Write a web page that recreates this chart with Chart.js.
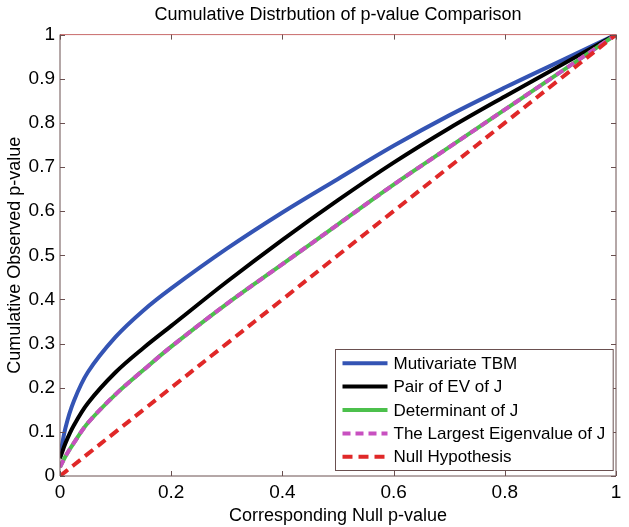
<!DOCTYPE html>
<html lang="en">
<head>
  <meta charset="UTF-8">
  <title>Cumulative Distrbution of p-value Comparison</title>
  <script src="https://cdn.jsdelivr.net/npm/chart.js"></script>
  <style>
    html, body { margin: 0; padding: 0; background: #fff; }
    #wrap { width: 629px; height: 527px; }
  </style>
</head>
<body>
  <div id="wrap"><canvas id="cdf" width="629" height="527"></canvas></div>

  <script>
    // values
    const nullP = [0, 0.01, 0.025, 0.05, 0.1, 0.15, 0.2, 0.3, 0.4, 0.5, 0.6, 0.7, 0.8, 0.9, 1];
    const tbm = [0.045, 0.11, 0.17, 0.235, 0.315, 0.375, 0.425, 0.515, 0.597, 0.673, 0.748, 0.817, 0.88, 0.94, 1];
    const pairEV = [0.04, 0.075, 0.115, 0.165, 0.235, 0.29, 0.34, 0.44, 0.535, 0.625, 0.71, 0.788, 0.86, 0.93, 1];
    const determinant = [0.02, 0.045, 0.075, 0.12, 0.185, 0.24, 0.293, 0.39, 0.48, 0.57, 0.66, 0.745, 0.83, 0.915, 1];
    const largestEig = [0.02, 0.045, 0.075, 0.12, 0.185, 0.24, 0.293, 0.39, 0.48, 0.57, 0.66, 0.745, 0.83, 0.915, 1];
    const nullHyp = [0, 0.01, 0.025, 0.05, 0.1, 0.15, 0.2, 0.3, 0.4, 0.5, 0.6, 0.7, 0.8, 0.9, 1];
    const seriesNames = ['Mutivariate TBM', 'Pair of EV of J', 'Determinant of J', 'The Largest Eigenvalue of J', 'Null Hypothesis'];
    const xTicks = [0, 0.2, 0.4, 0.6, 0.8, 1];
    const yTicks = [0, 0.1, 0.2, 0.3, 0.4, 0.5, 0.6, 0.7, 0.8, 0.9, 1];

    const toPoints = ys => nullP.map((x, i) => ({ x, y: ys[i] }));

    const axisColor = '#6a5050';
    const font = 'Liberation Sans, Arial, sans-serif';

    // MATLAB-like box with inward ticks plus an in-plot legend
    const matlabBox = {
      id: 'matlabBox',
      afterDatasetsDraw(chart) {
        const { ctx, chartArea: a, scales } = chart;
        ctx.save();
        ctx.lineWidth = 1;
        ctx.strokeStyle = axisColor;
        ctx.beginPath();
        ctx.moveTo(a.left, a.top); ctx.lineTo(a.left, a.bottom); ctx.lineTo(a.right, a.bottom); ctx.lineTo(a.right, a.top);
        ctx.stroke();
        ctx.strokeStyle = '#c86a6a';
        ctx.beginPath(); ctx.moveTo(a.left, a.top); ctx.lineTo(a.right, a.top); ctx.stroke();

        ctx.strokeStyle = axisColor;
        const len = 5;
        ctx.beginPath();
        xTicks.forEach(v => {
          const px = Math.round(scales.x.getPixelForValue(v)) + 0.5;
          ctx.moveTo(px, a.bottom); ctx.lineTo(px, a.bottom - len);
          ctx.moveTo(px, a.top); ctx.lineTo(px, a.top + len);
        });
        yTicks.forEach(v => {
          const py = Math.round(scales.y.getPixelForValue(v)) + 0.5;
          ctx.moveTo(a.left, py); ctx.lineTo(a.left + len, py);
          ctx.moveTo(a.right, py); ctx.lineTo(a.right - len, py);
        });
        ctx.stroke();

        // legend
        ctx.font = '17px ' + font;
        const rowH = 23.4;
        const sample = 45;
        const textW = Math.max(...seriesNames.map(n => ctx.measureText(n).width));
        const boxW = 7 + sample + 6 + textW + 8;
        const boxH = rowH * seriesNames.length + 4;
        const bx = Math.round(a.right - 3 - boxW) + 0.5;
        const by = Math.round(a.bottom - 6 - boxH) + 0.5;
        ctx.fillStyle = '#fff';
        ctx.fillRect(bx, by, boxW, boxH);
        ctx.strokeStyle = axisColor;
        ctx.strokeRect(bx, by, boxW, boxH);
        chart.data.datasets.forEach((ds, i) => {
          const cy = by + 2 + rowH * (i + 0.5);
          ctx.strokeStyle = ds.borderColor;
          ctx.lineWidth = ds.borderWidth;
          ctx.setLineDash(ds.borderDash || []);
          ctx.beginPath();
          ctx.moveTo(bx + 7, cy); ctx.lineTo(bx + 7 + sample, cy);
          ctx.stroke();
          ctx.setLineDash([]);
          ctx.fillStyle = '#000';
          ctx.textBaseline = 'middle';
          ctx.fillText(ds.label, bx + 7 + sample + 6, cy + 1);
        });
        ctx.restore();
      }
    };

    new Chart(document.getElementById('cdf').getContext('2d'), {
      type: 'line',
      data: {
        datasets: [
          { label: seriesNames[0], data: toPoints(tbm), borderColor: '#3454b4', borderWidth: 4, order: 5 },
          { label: seriesNames[1], data: toPoints(pairEV), borderColor: '#000000', borderWidth: 4, order: 4 },
          { label: seriesNames[2], data: toPoints(determinant), borderColor: '#4cc04c', borderWidth: 4, order: 3 },
          { label: seriesNames[3], data: toPoints(largestEig), borderColor: '#c850c0', borderWidth: 4, borderDash: [8, 5], order: 2 },
          { label: seriesNames[4], data: toPoints(nullHyp), borderColor: '#e02828', borderWidth: 4, borderDash: [10, 6], order: 1 }
        ]
      },
      options: {
        responsive: false,
        animation: false,
        layout: { padding: { left: 0, right: 13, top: 0, bottom: 0 } },
        elements: {
          point: { radius: 0 },
          line: { tension: 0.35, fill: false, borderCapStyle: 'butt' }
        },
        plugins: {
          legend: { display: false },
          tooltip: { enabled: false },
          title: {
            display: true,
            fullSize: false,
            text: 'Cumulative Distrbution of p-value Comparison',
            color: '#000',
            font: { family: font, size: 18, weight: 'normal' },
            padding: { top: 4, bottom: 9 }
          }
        },
        scales: {
          x: {
            type: 'linear', min: 0, max: 1,
            afterFit: s => { s.height = 51; },
            afterBuildTicks: s => { s.ticks = xTicks.map(v => ({ value: v })); },
            grid: { display: false, drawTicks: false },
            border: { display: false },
            ticks: { color: '#000', font: { family: font, size: 19 }, padding: 5, maxRotation: 0,
                     callback: v => String(+v.toFixed(1)) },
            title: { display: true, text: 'Corresponding Null p-value', color: '#000',
                     font: { family: font, size: 18 }, padding: { top: 0, bottom: 0 } }
          },
          y: {
            type: 'linear', min: 0, max: 1,
            afterFit: s => { s.width = 60; },
            afterBuildTicks: s => { s.ticks = yTicks.map(v => ({ value: v })); },
            grid: { display: false, drawTicks: false },
            border: { display: false },
            ticks: { color: '#000', font: { family: font, size: 19 }, padding: 5,
                     callback: v => String(+v.toFixed(1)) },
            title: { display: true, text: 'Cumulative Observed p-value', color: '#000',
                     font: { family: font, size: 18 }, padding: { top: 4, bottom: 0 } }
          }
        }
      },
      plugins: [matlabBox]
    });
  </script>
</body>
</html>
